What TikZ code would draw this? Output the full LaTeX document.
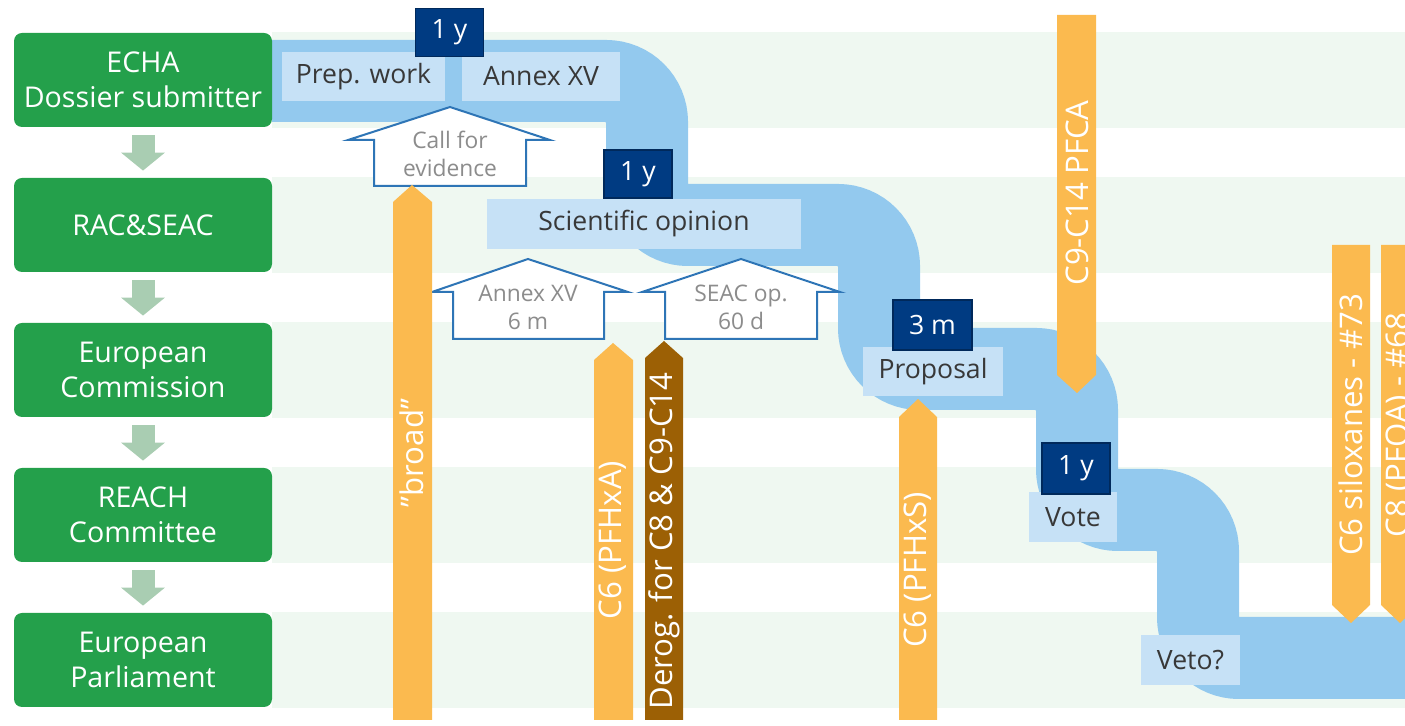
\documentclass[tikz,border=0pt]{standalone}
\usepackage{fontspec}
\setmainfont{Open Sans}
\usetikzlibrary{arrows.meta}

\definecolor{bandgreen}{HTML}{EFF8F1}
\definecolor{boxgreen}{HTML}{24A04B}
\definecolor{stepgrey}{HTML}{A9CDB2}
\definecolor{pathblue}{HTML}{93C9EE}
\definecolor{lblblue}{HTML}{C6E1F6}
\definecolor{navy}{HTML}{003B82}
\definecolor{tagorange}{HTML}{FBBA4F}
\definecolor{tagbrown}{HTML}{9C6005}
\definecolor{houseblue}{HTML}{2E75B6}
\definecolor{housetext}{HTML}{8C8C8C}

\tikzset{
  stage/.style={fill=boxgreen, rounded corners=4pt, minimum width=129pt, minimum height=47pt,
    inner sep=0pt, text=white, align=center, font=\fontsize{14.3}{17.5}\selectfont},
  stepdown/.style={stepgrey, line width=11.5pt, shorten <=4pt, shorten >=3.5pt,
    -{Triangle[width=21.5pt, length=9pt]}},
  lbl/.style={fill=lblblue, text=black!78, inner sep=0pt, font=\fontsize{13.3}{15}\selectfont},
  dur/.style={fill=navy, draw=navy!70!black, line width=0.6pt, text=white, inner sep=0pt,
    minimum width=34pt, minimum height=24pt, font=\fontsize{13.3}{15}\selectfont},
  house/.style={fill=white, draw=houseblue, line width=1pt},
  housetxt/.style={text=housetext, align=center, font=\fontsize{11.4}{14}\selectfont},
  tagtxt/.style={text=white, rotate=90, inner sep=0pt, font=\fontsize{15.6}{18}\selectfont}
}

\begin{document}
\begin{tikzpicture}[x=0.5pt, y=-0.5pt]
\useasboundingbox (0,0) rectangle (1405,726);
\clip (0,0) rectangle (1405,726);

\foreach \y in {80,225,370,515,660}
  \fill[bandgreen] (272,\y-48) rectangle (1405,\y+48);

\draw[pathblue, line width=41pt, rounded corners=20.5pt] (272,81) -- (647,81) -- (647,225)
  -- (879,225) -- (879,369) -- (1077,369) -- (1077,510) -- (1198,510) -- (1198,658) -- (1430,658);

\node[stage] (s1) at (143,80) {ECHA\\Dossier submitter};
\node[stage] (s2) at (143,225) {RAC\&SEAC};
\node[stage] (s3) at (143,370) {European\\Commission};
\node[stage] (s4) at (143,515) {REACH\\Committee};
\node[stage] (s5) at (143,660) {European\\Parliament};

\draw[stepdown] (s1) -- (s2);
\draw[stepdown] (s2) -- (s3);
\draw[stepdown] (s3) -- (s4);
\draw[stepdown] (s4) -- (s5);

\node[lbl, minimum width=81.5pt, minimum height=24.5pt] (b1) at (363.5,76.5) {Prep. work};
\node[lbl, minimum width=79pt, minimum height=24.5pt] (b2) at (541,76.5) {Annex XV};
\node[lbl, minimum width=157pt, minimum height=25pt] (b3) at (644,224) {Scientific opinion};
\node[lbl, minimum width=70pt, minimum height=24.5pt] (b4) at (933,371.5) {Proposal};
\node[lbl, minimum width=44pt, minimum height=25pt] (b5) at (1073,517) {Vote};
\node[lbl, minimum width=49.5pt, minimum height=25pt] (b6) at (1190.5,660) {Veto?};

\node[dur] (d1) at (449.5,32.5) {1 y};
\node[dur] (d2) at (638,174) {1 y};
\node[dur, minimum width=39.5pt, minimum height=25pt] (d3) at (932.5,325) {3 m};
\node[dur, minimum height=25.5pt] (d4) at (1076,468.5) {1 y};

\draw[house] (450,107) -- (550,140) -- (526,140) -- (526,186) -- (374,186) -- (374,140) -- (348,140) -- cycle;
\node[housetxt] (h1) at (450,154) {Call for\\evidence};
\draw[house] (528,259) -- (628,292) -- (604,292) -- (604,339) -- (453,339) -- (453,292) -- (432,292) -- cycle;
\node[housetxt] (h2) at (528,307) {Annex XV\\6 m};
\draw[house] (741,259) -- (840,292) -- (817,292) -- (817,339) -- (665,339) -- (665,292) -- (642,292) -- cycle;
\node[housetxt] (h3) at (741,307) {SEAC op.\\60 d};

\fill[tagorange] (393,720) -- (393,202) -- (412,185) -- (432,202) -- (432,720) -- cycle;
\node[tagtxt] (t1) at (412,453) {”broad”};
\fill[tagorange] (594,720) -- (594,360) -- (613,343) -- (633,360) -- (633,720) -- cycle;
\node[tagtxt] (t2) at (613,540) {C6 (PFHxA)};
\fill[tagbrown] (645,720) -- (645,358) -- (664,341) -- (683,358) -- (683,720) -- cycle;
\node[tagtxt] (t3) at (664,541) {Derog. for C8 \& C9-C14};
\fill[tagorange] (899,720) -- (899,417) -- (918,399) -- (937,417) -- (937,720) -- cycle;
\node[tagtxt] (t4) at (918,570) {C6 (PFHxS)};
\fill[tagorange] (1057,15) -- (1057,375) -- (1077,393) -- (1096,375) -- (1096,15) -- cycle;
\node[tagtxt] (t5) at (1077,193) {C9-C14 PFCA};
\fill[tagorange] (1332,245) -- (1332,605) -- (1351,623) -- (1370,605) -- (1370,245) -- cycle;
\node[tagtxt] (t6) at (1351,425) {C6 siloxanes - \#73};
\fill[tagorange] (1381,245) -- (1381,605) -- (1400,623) -- (1419,605) -- (1419,245) -- cycle;
\node[tagtxt] (t7) at (1400,425) {C8 (PFOA) - \#68};
\end{tikzpicture}
\end{document}
